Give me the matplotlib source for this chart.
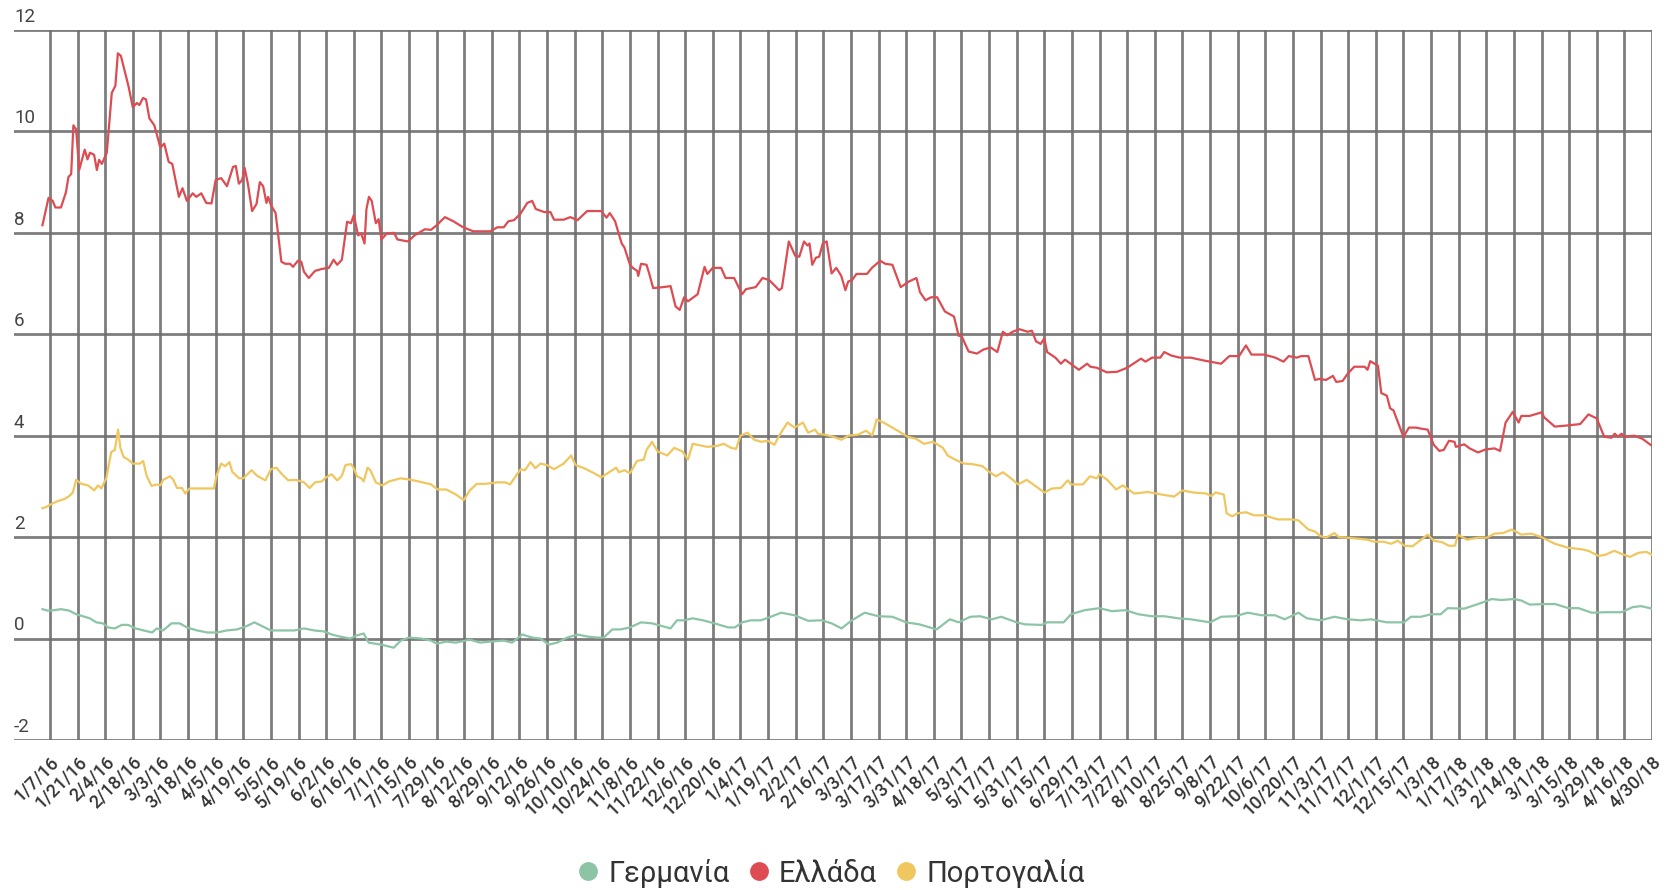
import matplotlib.pyplot as plt
from matplotlib.lines import Line2D

plt.rcParams['font.family'] = ['Roboto', 'DejaVu Sans']

# x labels: one every tick interval (trading-day axis)
dates = ['1/7/16', '1/21/16', '2/4/16', '2/18/16', '3/3/16', '3/18/16', '4/5/16', '4/19/16',
         '5/5/16', '5/19/16', '6/2/16', '6/16/16', '7/1/16', '7/15/16', '7/29/16', '8/12/16',
         '8/29/16', '9/12/16', '9/26/16', '10/10/16', '10/24/16', '11/8/16', '11/22/16',
         '12/6/16', '12/20/16', '1/4/17', '1/19/17', '2/2/17', '2/16/17', '3/3/17', '3/17/17',
         '3/31/17', '4/18/17', '5/3/17', '5/17/17', '5/31/17', '6/15/17', '6/29/17', '7/13/17',
         '7/27/17', '8/10/17', '8/25/17', '9/8/17', '9/22/17', '10/6/17', '10/20/17',
         '11/3/17', '11/17/17', '12/1/17', '12/15/17', '1/3/18', '1/17/18', '1/31/18',
         '2/14/18', '3/1/18', '3/15/18', '3/29/18', '4/16/18', '4/30/18']

# positions are in units of label intervals (0 = 1/7/16)
greece_pos = [-0.27, -0.05, 0.1, 0.2, 0.4, 0.58, 0.67, 0.77, 0.85, 0.95, 1.06, 1.14, 1.26, 1.36,
              1.45, 1.6, 1.7, 1.78, 1.88, 2.06, 2.24, 2.37, 2.46, 2.57, 2.85, 3.0, 3.15, 3.24,
              3.37, 3.48, 3.6, 3.78, 4.0, 4.14, 4.3, 4.43, 4.67, 4.8, 4.96, 5.17, 5.3, 5.48,
              5.66, 5.85, 6.0, 6.2, 6.41, 6.63, 6.73, 6.84, 6.96, 7.05, 7.17, 7.32, 7.48, 7.6,
              7.72, 7.84, 7.9, 8.0, 8.17, 8.38, 8.52, 8.7, 8.8, 8.98, 9.1, 9.2, 9.37, 9.6, 9.85,
              10.1, 10.27, 10.4, 10.57, 10.76, 10.9, 11.0, 11.16, 11.27, 11.39, 11.46, 11.55,
              11.65, 11.8, 11.9, 12.0, 12.2, 12.46, 12.58, 12.96, 13.2, 13.57, 13.8, 14.0, 14.3,
              14.6, 14.96, 15.33, 15.94, 16.2, 16.43, 16.6, 16.8, 17.04, 17.28, 17.46, 17.59,
              17.9, 18.12, 18.25, 18.6, 18.84, 19.1, 19.45, 19.96, 20.15, 20.27, 20.46, 20.7,
              20.8, 21.0, 21.1, 21.26, 21.3, 21.4, 21.6, 21.7, 21.84, 22.2, 22.47, 22.65, 22.8,
              22.96, 23.1, 23.45, 23.7, 23.8, 24.0, 24.3, 24.46, 24.77, 25.06, 25.2, 25.55,
              25.8, 26.04, 26.4, 26.5, 26.75, 26.98, 27.13, 27.3, 27.43, 27.5, 27.6, 27.73,
              27.85, 27.98, 28.12, 28.3, 28.47, 28.65, 28.8, 28.9, 29.04, 29.2, 29.58, 29.76,
              30.06, 30.24, 30.5, 30.8, 31.1, 31.37, 31.5, 31.7, 31.9, 32.12, 32.4, 32.73, 32.9,
              33.0, 33.26, 33.56, 33.8, 34.06, 34.3, 34.5, 34.66, 34.85, 35.1, 35.4, 35.55,
              35.7, 35.87, 36.0, 36.1, 36.4, 36.6, 36.75, 36.95, 37.25, 37.55, 37.67, 37.9,
              38.26, 38.63, 39.0, 39.5, 39.66, 39.9, 40.2, 40.34, 40.6, 40.9, 41.3, 41.8, 42.4,
              42.7, 43.05, 43.3, 43.5, 43.95, 44.36, 44.66, 44.85, 45.14, 45.3, 45.56, 45.8,
              45.94, 46.2, 46.45, 46.57, 46.8, 46.98, 47.22, 47.6, 47.7, 47.8, 48.08, 48.2,
              48.4, 48.52, 48.64, 49.0, 49.2, 49.45, 49.64, 49.88, 50.1, 50.3, 50.46, 50.65,
              50.85, 50.9, 51.2, 51.4, 51.7, 51.98, 52.3, 52.5, 52.7, 52.96, 53.17, 53.27,
              53.57, 54.0, 54.1, 54.48, 54.9, 55.4, 55.7, 56.0, 56.27, 56.53, 56.65, 56.77,
              56.9, 57.0, 57.35, 57.65, 58.0]
greece_val = [8.15, 8.69, 8.63, 8.5, 8.5, 8.8, 9.1, 9.16, 10.12, 10.04, 9.24, 9.4, 9.64, 9.45,
              9.58, 9.54, 9.24, 9.44, 9.36, 9.58, 10.76, 10.9, 11.54, 11.49, 10.88, 10.48,
              10.56, 10.52, 10.66, 10.63, 10.26, 10.12, 9.68, 9.76, 9.4, 9.36, 8.71, 8.88, 8.63,
              8.78, 8.71, 8.78, 8.59, 8.58, 9.04, 9.08, 8.92, 9.3, 9.32, 8.97, 9.04, 9.28, 8.96,
              8.43, 8.57, 9.0, 8.92, 8.59, 8.71, 8.55, 8.39, 7.43, 7.39, 7.39, 7.33, 7.45, 7.43,
              7.23, 7.11, 7.25, 7.29, 7.31, 7.47, 7.37, 7.47, 8.22, 8.19, 8.35, 7.95, 7.99, 7.79,
              8.47, 8.71, 8.63, 8.19, 8.27, 7.87, 7.99, 8.0, 7.87, 7.83, 7.95, 8.07, 8.06, 8.15,
              8.31, 8.23, 8.11, 8.03, 8.03, 8.11, 8.11, 8.23, 8.25, 8.38, 8.59, 8.63, 8.47,
              8.41, 8.41, 8.26, 8.26, 8.31, 8.25, 8.43, 8.43, 8.3, 8.39, 8.23, 7.79, 7.71, 7.37,
              7.31, 7.25, 7.15, 7.39, 7.37, 7.19, 6.91, 6.93, 6.95, 6.55, 6.48, 6.73, 6.65,
              6.79, 7.33, 7.19, 7.31, 7.31, 7.11, 7.11, 6.79, 6.89, 6.93, 7.11, 7.07, 6.87,
              6.91, 7.83, 7.55, 7.53, 7.83, 7.75, 7.79, 7.37, 7.51, 7.53, 7.79, 7.83, 7.2, 7.31,
              7.15, 6.87, 7.04, 7.07, 7.19, 7.19, 7.31, 7.45, 7.39, 7.37, 6.93, 7.04, 7.11, 6.83,
              6.67, 6.73, 6.73, 6.45, 6.35, 5.97, 5.97, 5.66, 5.62, 5.7, 5.74, 5.65, 6.05, 5.98,
              6.05, 6.1, 6.05, 6.07, 5.86, 5.81, 5.92, 5.65, 5.54, 5.42, 5.5, 5.42, 5.3, 5.42,
              5.36, 5.34, 5.25, 5.26, 5.34, 5.52, 5.46, 5.54, 5.54, 5.65, 5.58, 5.54, 5.54,
              5.48, 5.42, 5.57, 5.57, 5.78, 5.6, 5.6, 5.54, 5.46, 5.57, 5.54, 5.57, 5.57, 5.1,
              5.12, 5.1, 5.18, 5.06, 5.08, 5.22, 5.36, 5.36, 5.3, 5.47, 5.38, 4.84, 4.79, 4.54,
              4.5, 3.98, 4.16, 4.16, 4.14, 4.12, 3.82, 3.7, 3.72, 3.9, 3.88, 3.78, 3.83, 3.75,
              3.67, 3.73, 3.75, 3.7, 4.26, 4.47, 4.26, 4.39, 4.39, 4.46, 4.36, 4.18, 4.2, 4.23,
              4.42, 4.34, 3.98, 3.96, 4.04, 3.98, 4.04, 3.98, 4.0, 3.94, 3.8]

portugal_pos = [-0.27, -0.15, 0.04, 0.28, 0.52, 0.7, 0.83, 0.95, 1.14, 1.38, 1.5, 1.6, 1.74,
                1.86, 2.04, 2.22, 2.35, 2.47, 2.55, 2.67, 2.83, 3.0, 3.25, 3.38, 3.5, 3.68,
                3.86, 4.0, 4.1, 4.35, 4.47, 4.6, 4.78, 4.9, 5.05, 5.47, 5.94, 6.03, 6.2, 6.35,
                6.5, 6.6, 6.85, 7.0, 7.3, 7.5, 7.8, 8.0, 8.2, 8.4, 8.63, 8.9, 9.2, 9.4, 9.6,
                9.85, 10.0, 10.2, 10.4, 10.57, 10.7, 10.9, 11.0, 11.12, 11.27, 11.36, 11.5,
                11.6, 11.8, 12.04, 12.28, 12.7, 13.08, 13.33, 13.8, 14.03, 14.35, 14.7, 14.98,
                15.2, 15.45, 15.75, 16.2, 16.48, 16.66, 17.04, 17.2, 17.4, 17.57, 17.76, 18.0,
                18.25, 18.6, 18.87, 19.03, 19.34, 19.7, 19.96, 20.27, 20.5, 20.6, 20.8, 21.0,
                21.25, 21.5, 21.6, 21.8, 22.0, 22.35, 22.6, 22.9, 23.1, 23.27, 23.45, 23.8,
                24.16, 24.4, 24.66, 24.84, 25.0, 25.25, 25.5, 25.75, 26.0, 26.23, 26.4, 26.7,
                26.96, 27.26, 27.45, 27.7, 27.8, 28.05, 28.35, 28.66, 28.9, 29.25, 29.55,
                29.77, 29.93, 30.18, 30.5, 30.75, 31.05, 31.35, 31.65, 31.97, 32.33, 32.5,
                32.8, 33.1, 33.4, 33.76, 34.0, 34.25, 34.5, 34.75, 35.05, 35.36, 35.6, 36.0,
                36.28, 36.6, 36.85, 36.97, 37.4, 37.65, 37.9, 38.0, 38.3, 38.6, 38.84, 39.25,
                39.75, 40.25, 40.7, 41.0, 41.4, 41.86, 42.05, 42.2, 42.5, 42.6, 42.8, 43.0,
                43.3, 43.6, 43.97, 44.45, 44.95, 45.2, 45.56, 45.8, 46.0, 46.2, 46.5, 46.67,
                46.98, 47.34, 47.7, 47.93, 48.27, 48.56, 48.8, 49.03, 49.33, 49.64, 49.88,
                50.1, 50.4, 50.65, 50.87, 50.97, 51.3, 51.7, 52.03, 52.3, 52.6, 52.93, 53.27,
                53.63, 54.0, 54.48, 54.97, 55.46, 55.7, 56.06, 56.3, 56.63, 56.9, 57.2, 57.5,
                57.8, 58.0]
portugal_val = [2.57, 2.59, 2.65, 2.71, 2.75, 2.81, 2.88, 3.13, 3.05, 3.02, 2.97, 2.92, 3.02,
                2.96, 3.16, 3.68, 3.72, 4.12, 3.76, 3.58, 3.53, 3.45, 3.45, 3.5, 3.21, 3.01,
                3.04, 3.02, 3.13, 3.2, 3.13, 2.97, 2.97, 2.86, 2.96, 2.96, 2.96, 3.21, 3.45,
                3.4, 3.48, 3.29, 3.16, 3.16, 3.32, 3.21, 3.12, 3.34, 3.37, 3.24, 3.12, 3.13,
                3.08, 2.97, 3.08, 3.1, 3.18, 3.24, 3.12, 3.21, 3.42, 3.44, 3.36, 3.2, 3.16, 3.1,
                3.37, 3.32, 3.08, 3.02, 3.1, 3.16, 3.13, 3.1, 3.04, 2.94, 2.94, 2.84, 2.73, 2.92,
                3.05, 3.05, 3.08, 3.08, 3.04, 3.34, 3.32, 3.48, 3.36, 3.45, 3.42, 3.34, 3.45,
                3.61, 3.42, 3.36, 3.26, 3.18, 3.29, 3.37, 3.28, 3.32, 3.26, 3.5, 3.53, 3.72,
                3.88, 3.69, 3.61, 3.76, 3.69, 3.53, 3.84, 3.82, 3.78, 3.8, 3.84, 3.76, 3.74,
                4.0, 4.06, 3.92, 3.88, 3.9, 3.82, 4.0, 4.26, 4.16, 4.26, 4.06, 4.12, 4.04, 4.02,
                3.98, 3.92, 4.0, 4.02, 4.1, 4.0, 4.32, 4.26, 4.16, 4.08, 3.98, 3.94, 3.84, 3.88,
                3.76, 3.61, 3.52, 3.45, 3.44, 3.4, 3.29, 3.2, 3.28, 3.18, 3.04, 3.13, 3.04, 2.88,
                2.96, 2.97, 3.12, 3.04, 3.04, 3.2, 3.16, 3.24, 3.12, 2.94, 3.02, 2.86, 2.89,
                2.84, 2.8, 2.92, 2.88, 2.86, 2.81, 2.88, 2.84, 2.47, 2.41, 2.47, 2.49, 2.43,
                2.43, 2.35, 2.35, 2.33, 2.15, 2.11, 2.02, 1.99, 2.08, 2.0, 1.99, 1.97, 1.95,
                1.91, 1.91, 1.87, 1.93, 1.83, 1.82, 1.95, 2.05, 1.93, 1.9, 1.83, 1.83, 2.05,
                1.95, 1.99, 1.99, 2.07, 2.08, 2.15, 2.05, 2.07, 2.0, 1.87, 1.79, 1.76, 1.73,
                1.63, 1.65, 1.73, 1.67, 1.61, 1.69, 1.71, 1.65]

germany_pos = [-0.27, -0.08, 0.16, 0.4, 0.7, 0.95, 1.2, 1.44, 1.68, 1.92, 2.1, 2.35, 2.6,
               2.83, 3.1, 3.4, 3.7, 3.87, 4.1, 4.4, 4.7, 4.96, 5.33, 5.7, 6.05, 6.4, 6.77, 7.1,
               7.4, 7.7, 8.0, 8.4, 8.85, 9.2, 9.57, 9.93, 10.2, 10.5, 10.87, 11.1, 11.36,
               11.54, 12.0, 12.45, 12.7, 13.0, 13.45, 13.8, 14.0, 14.35, 14.7, 15.2, 15.57,
               15.94, 16.43, 16.73, 17.1, 17.46, 17.76, 18.06, 18.36, 18.73, 19.1, 19.45, 19.8,
               20.05, 20.36, 20.66, 21.0, 21.4, 21.8, 22.0, 22.47, 22.7, 22.96, 23.27, 23.64,
               24.06, 24.55, 24.8, 25.06, 25.37, 25.74, 26.1, 26.47, 26.96, 27.45, 27.94,
               28.3, 28.66, 29.03, 29.5, 30.0, 30.5, 31.0, 31.48, 32.1, 32.58, 32.9, 33.32,
               33.68, 34.1, 34.44, 35.0, 35.3, 35.9, 36.1, 36.7, 36.97, 37.46, 38.0, 38.45,
               38.94, 39.4, 39.9, 40.35, 40.84, 41.3, 42.0, 42.4, 42.9, 43.37, 43.86, 44.35,
               44.7, 45.2, 45.5, 46.0, 46.5, 46.98, 47.46, 47.83, 48.4, 49.02, 49.27, 49.64,
               50.0, 50.35, 50.6, 51.2, 51.7, 52.2, 52.54, 53.0, 53.27, 53.57, 54.1, 54.5,
               54.97, 55.34, 55.82, 56.3, 56.9, 57.3, 57.6, 58.0]
germany_val = [0.58, 0.55, 0.56, 0.58, 0.55, 0.48, 0.44, 0.4, 0.32, 0.3, 0.22, 0.2, 0.27, 0.27,
               0.2, 0.16, 0.12, 0.2, 0.16, 0.3, 0.3, 0.22, 0.16, 0.12, 0.12, 0.16, 0.18, 0.24,
               0.32, 0.24, 0.16, 0.16, 0.16, 0.2, 0.16, 0.14, 0.08, 0.04, 0.0, 0.06, 0.1, -0.08,
               -0.12, -0.18, -0.04, 0.02, 0.0, -0.04, -0.1, -0.06, -0.08, -0.02, -0.08, -0.06,
               -0.04, -0.08, 0.08, 0.02, 0.0, -0.12, -0.08, 0.02, 0.08, 0.04, 0.02, 0.02, 0.18,
               0.18, 0.22, 0.32, 0.3, 0.27, 0.2, 0.36, 0.36, 0.4, 0.36, 0.3, 0.22, 0.22, 0.32,
               0.36, 0.36, 0.43, 0.51, 0.46, 0.35, 0.36, 0.3, 0.2, 0.36, 0.51, 0.44, 0.43, 0.32,
               0.28, 0.18, 0.38, 0.32, 0.43, 0.44, 0.38, 0.43, 0.32, 0.28, 0.27, 0.32, 0.32,
               0.48, 0.56, 0.6, 0.54, 0.56, 0.48, 0.44, 0.44, 0.4, 0.38, 0.32, 0.43, 0.44, 0.51,
               0.46, 0.46, 0.38, 0.51, 0.4, 0.36, 0.43, 0.38, 0.36, 0.38, 0.32, 0.32, 0.43,
               0.43, 0.48, 0.48, 0.6, 0.59, 0.68, 0.78, 0.76, 0.78, 0.75, 0.67, 0.68, 0.68,
               0.6, 0.6, 0.51, 0.52, 0.52, 0.62, 0.64, 0.59]

series = [('Γερμανία', germany_pos, germany_val, '#8cc4a5'),
          ('Ελλάδα', greece_pos, greece_val, '#dc4c52'),
          ('Πορτογαλία', portugal_pos, portugal_val, '#f0c75e')]
yticks = [-2, 0, 2, 4, 6, 8, 10, 12]

fig = plt.figure(figsize=(16.71, 8.90), dpi=100)
ax = fig.add_axes([14/1671, 1 - 740/890, (1652 - 14)/1671, 710/890])

for name, xs, ys, col in series:
    ax.plot(xs, ys, color=col, lw=1.6, zorder=3)

ax.set_xlim(-1.3, 58)
ax.set_ylim(-2, 12)
ax.set_xticks(range(len(dates)))
ax.set_xticklabels(dates, rotation=45, ha='right', rotation_mode='anchor',
                   fontsize=13, fontweight='medium', color='#333333')
ax.set_yticks(yticks)
ax.set_yticklabels([])
ax.tick_params(length=0)
ax.tick_params(axis='x', pad=9)
ax.grid(True, color='#6f6f6f', lw=2.0, alpha=0.9, zorder=1)
for s in ax.spines.values():
    s.set_visible(False)

for v in yticks:
    ax.annotate(str(v), xy=(0, v), xycoords=ax.get_yaxis_transform(),
                xytext=(0, 3), textcoords='offset points', ha='left', va='bottom',
                fontsize=13.5, color='#444444')

handles = [Line2D([], [], ls='', marker='o', ms=12.5, color=c, label=n) for n, _, _, c in series]
fig.legend(handles=handles, loc='center', bbox_to_anchor=(0.497, 1 - 873/890), ncol=3,
           frameon=False, fontsize=21, handletextpad=0.3, columnspacing=0.6,
           handlelength=0.8, labelcolor='#333333')

fig.savefig('out.png', dpi=100)
